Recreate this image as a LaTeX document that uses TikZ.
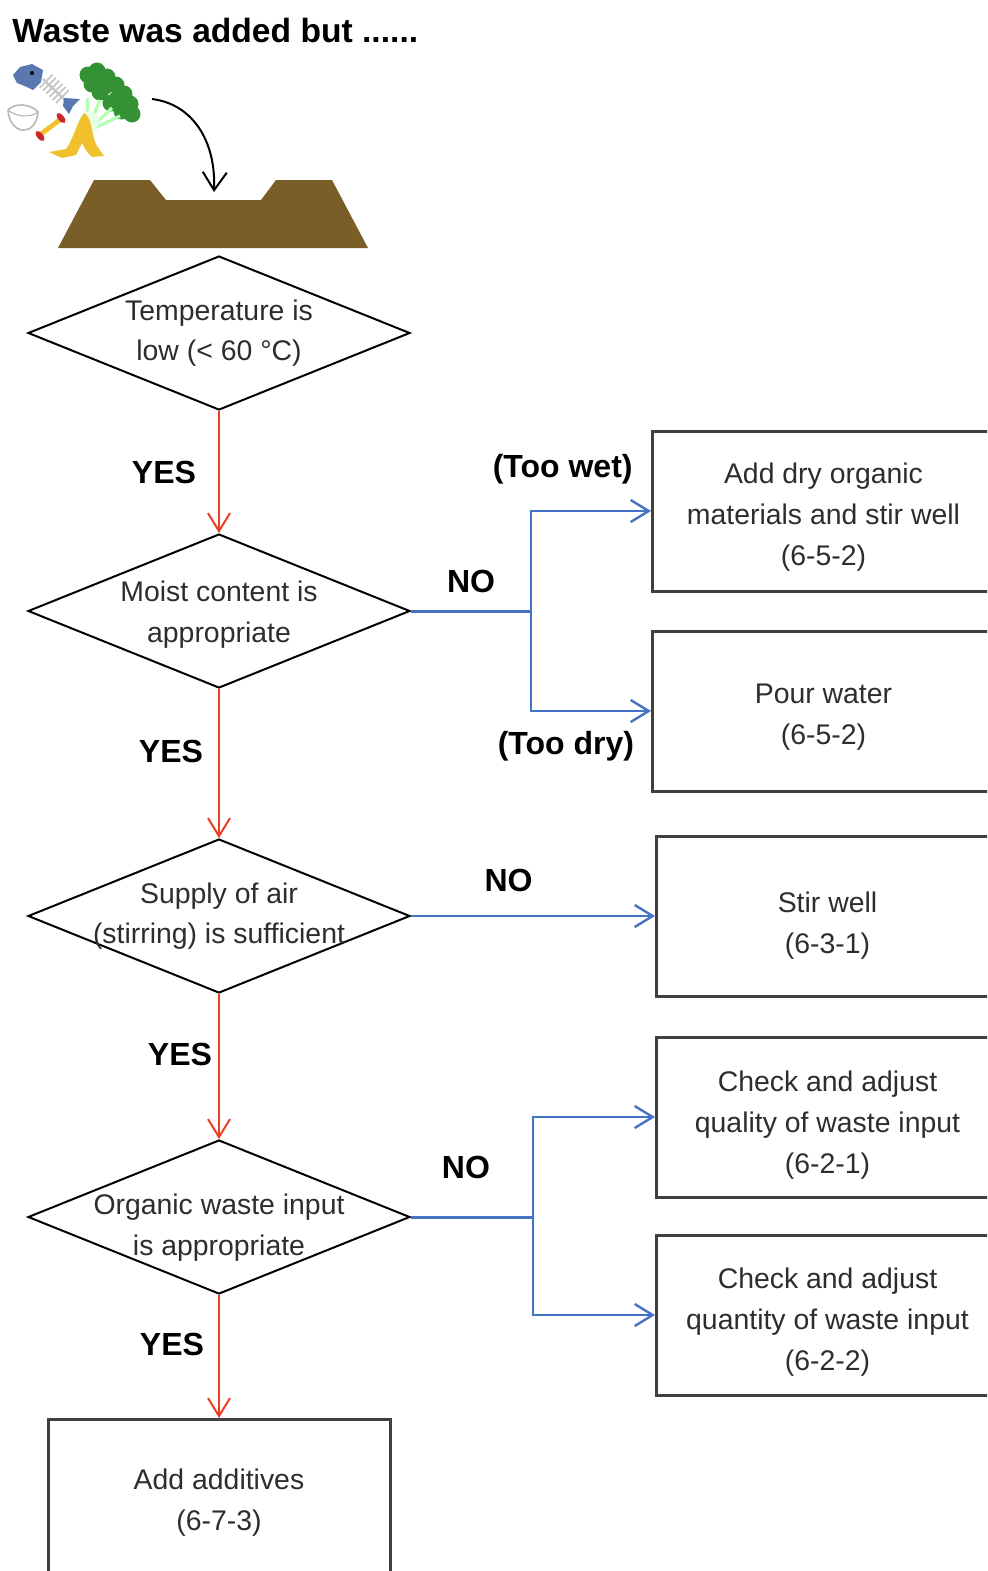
\documentclass[tikz,border=0pt]{standalone}
\usepackage{fontspec}
\setmainfont{Liberation Sans}
\usepackage{tikz}
\usetikzlibrary{shapes.geometric,arrows.meta,positioning,calc}

\definecolor{yesred}{RGB}{236,62,36}
\definecolor{noblue}{RGB}{68,114,196}
\definecolor{heapbrown}{RGB}{122,94,40}
\definecolor{boxgray}{RGB}{64,64,64}
\definecolor{txtgray}{RGB}{45,45,45}
\definecolor{fishblue}{RGB}{90,120,176}
\definecolor{leafgreen}{RGB}{52,145,52}
\definecolor{bananayel}{RGB}{242,192,44}
\definecolor{bonered}{RGB}{200,40,40}

% taller first line, pushes the text block down a little
\newcommand{\firstline}[1]{\rule{0pt}{#1}}

\tikzset{
    decision/.style={
        diamond,
        draw,
        aspect=2.48,
        minimum width=191pt,
        minimum height=77pt,
        inner sep=-6pt,
        align=center,
        line width=1pt,
        text=txtgray,
        font=\fontsize{14.2}{20.3}\selectfont
    },
    action/.style={
        rectangle,
        draw=boxgray,
        line width=1.5pt,
        align=center,
        minimum width=171pt,
        minimum height=80pt,
        text=txtgray,
        font=\fontsize{14.2}{20.5}\selectfont
    },
    answer/.style={
        inner sep=0pt,
        font=\fontsize{16}{19}\selectfont\bfseries
    },
    yesarrow/.style={draw=yesred, line width=1pt, -{Straight Barb[length=9pt,width=11pt]}},
    trunk/.style={draw=noblue, line width=1.5pt},
    noarrow/.style={draw=noblue, line width=1.2pt, -{Straight Barb[length=9pt,width=11pt]}}
}

\begin{document}
\begin{tikzpicture}[x=0.5pt, y=-0.5pt]
    \useasboundingbox (0,0) rectangle (987,1571);
    \clip (0,0) rectangle (987,1571);

    \node[answer, anchor=west, font=\fontsize{16.8}{20}\selectfont\bfseries] (heading) at (12,30) {Waste was added but ......};

    % kitchen waste: fish, bowl, bone, radish, banana peel
    \fill[fishblue] (13,75) -- (20,67) -- (32,64) -- (43,70) -- (41,82) -- (33,90) -- (27,87) -- (17,83) -- cycle;
    \fill[black] (32,73) circle (2);
    \draw[gray!45, line width=1.2] (43,79) -- (66,101);
    \foreach \t in {0.12,0.26,...,0.9}
        \draw[gray!45, line width=0.9] ($(43,79)!\t!(66,101)+(-6,6)$) -- ($(43,79)!\t!(66,101)+(7,-7)$);
    \fill[fishblue] (64,98) -- (80,99) -- (73,106) -- (69,114) -- (63,106) -- cycle;
    \filldraw[draw=gray!55, fill=white, line width=0.8] (8,110) .. controls (10,136) and (36,137) .. (38,112) .. controls (30,103) and (14,103) .. cycle;
    \draw[gray!55, line width=0.6] (8,110) .. controls (16,117) and (31,118) .. (38,112);
    \draw[bananayel, line width=2.4] (41,134) -- (61,119);
    \fill[bonered, rotate around={40:(61,118)}] (61,118) ellipse (3 and 6);
    \fill[bonered, rotate around={40:(40,136)}] (40,136) ellipse (3 and 6);
    \foreach \lx/\ly in {88/75, 97/71, 107/77, 116/85, 124/94, 130/104, 122/111, 111/103, 100/92, 92/84, 104/87, 117/99, 132/114}
        \fill[leafgreen] (\lx,\ly) circle (8.5);
    \draw[green!30!white, line width=1.6] (86,126) -- (88,98) (89,126) -- (100,100) (92,127) -- (112,108) (95,128) -- (120,116);
    \fill[green!10!white] (89,122) ellipse (10 and 11);
    \fill[bananayel] (84,113) .. controls (93,118) and (91,136) .. (97,146) -- (104,156) -- (92,157)
        .. controls (86,152) and (84,146) .. (82,143) -- (76,155) -- (62,158) -- (49,152) -- (66,149)
        .. controls (73,140) and (76,124) .. cycle;

    % compost heap
    \fill[heapbrown] (58,248) -- (94,180) -- (150,180) -- (166,200) -- (261,200) -- (276,180) -- (332,180) -- (368,248) -- cycle;
    \coordinate (drop) at (152,99);
    \coordinate (pit) at (214,192);
    \draw[line width=1pt, -{Straight Barb[length=9pt,width=12pt]}] (drop) .. controls (192,104) and (216,140) .. (pit);

    % main column
    \node[decision] (temp) at (219,333) {Temperature is\\low (< 60 °C)};
    \node[decision, below=61pt of temp] (moist) {\firstline{14pt}Moist content is\\appropriate};
    \node[decision, below=74.5pt of moist] (air) {Supply of air\\(stirring) is sufficient};
    \node[decision, below=72.5pt of air, inner sep=-9pt] (input) {\firstline{21pt}Organic waste input\\is appropriate};
    \node[action, below=61.5pt of input] (additives) {\firstline{13pt}Add additives\\(6-7-3)};

    % remedies
    \node[action, right=120pt of moist, yshift=50pt] (dry) {\firstline{16pt}Add dry organic\\materials and stir well\\(6-5-2)};
    \node[action, right=120pt of moist, yshift=-50pt] (water) {\firstline{16pt}Pour water\\(6-5-2)};
    \node[action, right=122pt of air] (stir) {\firstline{20pt}Stir well\\(6-3-1)};
    \node[action, right=122pt of input, yshift=50pt] (quality) {\firstline{18pt}Check and adjust\\quality of waste input\\(6-2-1)};
    \node[action, right=122pt of input, yshift=-49pt] (quantity) {\firstline{17pt}Check and adjust\\quantity of waste input\\(6-2-2)};

    \node[answer, left=9pt of dry.north west, yshift=-19.75pt] (wet) {(Too wet)};
    \node[answer, left=8.25pt of water.south west, yshift=23.25pt] (dryness) {(Too dry)};

    \coordinate (fork1) at ($(moist.east)!.5!(moist.east -| dry.west)$);
    \coordinate (fork2) at ($(input.east)!.5!(input.east -| quality.west)$);

    \draw[yesarrow] (temp) -- node[answer, left=11pt, pos=.5] (yes1) {YES} (moist);
    \draw[yesarrow] (moist) -- node[answer, left=7.5pt, pos=.42] (yes2) {YES} (air);
    \draw[yesarrow] (air) -- node[answer, left=3pt, pos=.42] (yes3) {YES} (input);
    \draw[yesarrow] (input) -- node[answer, left=7pt, pos=.4] (yes4) {YES} (additives);

    \draw[trunk] (moist) -- node[answer, above=8.25pt] (no1) {NO} (fork1);
    \draw[noarrow] (fork1) |- (dry);
    \draw[noarrow] (fork1) |- (water);
    \draw[noarrow] (air) -- node[answer, above=11.75pt, pos=.4] (no2) {NO} (stir);
    \draw[trunk] (input) -- node[answer, above=18.25pt, pos=.45] (no3) {NO} (fork2);
    \draw[noarrow] (fork2) |- (quality);
    \draw[noarrow] (fork2) |- (quantity);
\end{tikzpicture}
\end{document}
